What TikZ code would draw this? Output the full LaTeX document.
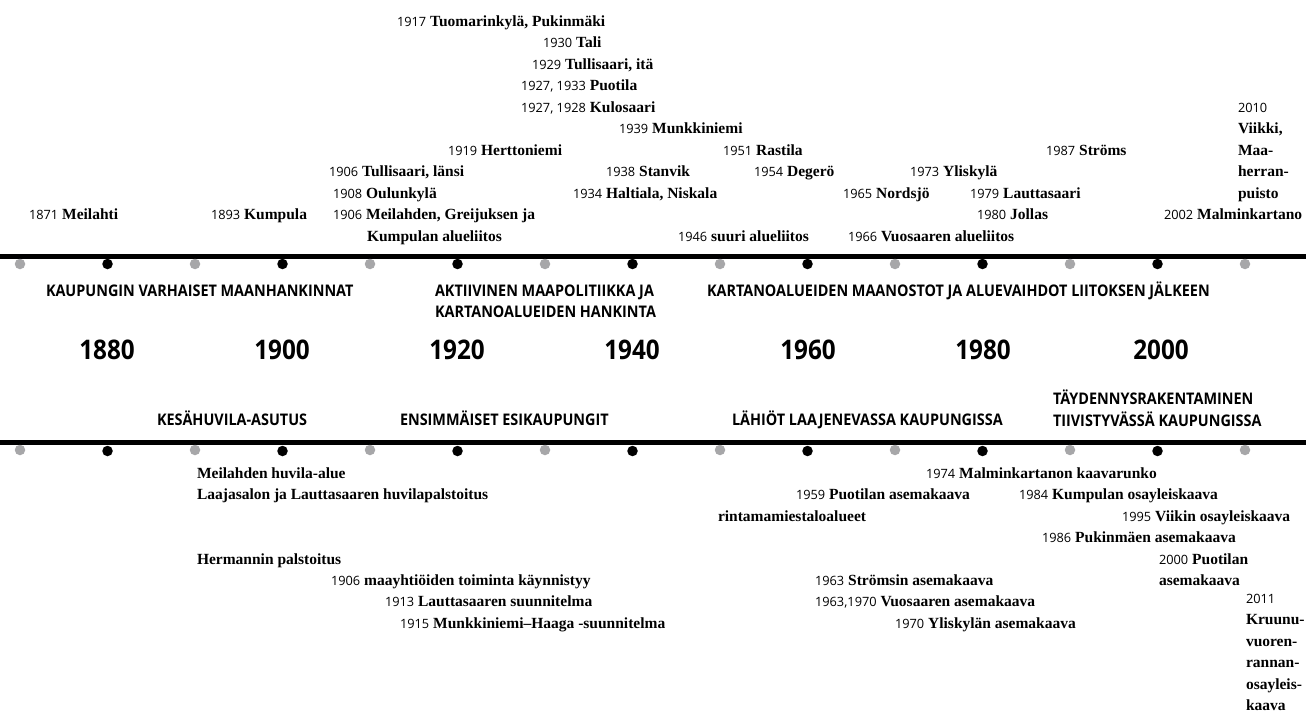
\documentclass[tikz,border=0pt]{standalone}
\usepackage{fontspec}
\setmainfont{Liberation Serif}
\newfontfamily\yrfont{Open Sans}
\newfontfamily\hdfont{Open Sans}[FakeStretch=0.9]
\definecolor{dotgray}{HTML}{A7A7A9}
\newcommand\yy[1]{{\yrfont\fontsize{12.8}{21.4}\selectfont #1}}
\newcommand\nn[1]{\textbf{#1}}
\tikzset{
  ev/.style={anchor=base west, inner sep=0pt, outer sep=0pt, align=left,
    font=\fontsize{15.5}{21.4}\selectfont},
  hd/.style={anchor=base west, inner sep=0pt, outer sep=0pt, align=left,
    font=\hdfont\bfseries\fontsize{16}{21.5}\selectfont},
  dec/.style={anchor=base, inner sep=0pt, outer sep=0pt,
    font=\hdfont\bfseries\fontsize{27}{30}\selectfont},
  dotb/.style={circle, fill=black, inner sep=0pt, minimum size=10.5pt},
  dotg/.style={circle, fill=dotgray, inner sep=0pt, minimum size=10.5pt},
  axis/.style={line width=4.6pt, black}
}
\begin{document}
\begin{tikzpicture}[x=1pt,y=-1pt]
\useasboundingbox (0,0) rectangle (1306,714);
% axes
\coordinate (tl) at (0,256.3);
\coordinate (tr) at (1306,256.3);
\coordinate (bl) at (0,442.6);
\coordinate (br) at (1306,442.6);
\draw[axis] (tl) -- (tr);
\draw[axis] (bl) -- (br);
% dots
\foreach \i in {0,...,14}{
  \pgfmathtruncatemacro\odd{mod(\i,2)}
  \ifnum\odd=0
    \node[dotg] (td\i) at ({20+87.5*\i},264) {};
    \node[dotg] (bd\i) at ({20+87.5*\i},450) {};
  \else
    \node[dotb] (td\i) at ({20+87.5*\i},264) {};
    \node[dotb] (bd\i) at ({20+87.5*\i},451) {};
  \fi
}
% decades
\node[dec] (d1880) at (107,359) {1880};
\node[dec] (d1900) at (282,359) {1900};
\node[dec] (d1920) at (457,359) {1920};
\node[dec] (d1940) at (632,359) {1940};
\node[dec] (d1960) at (808,359) {1960};
\node[dec] (d1980) at (983,359) {1980};
\node[dec] (d2000) at (1161,359) {2000};
% headings (base anchor = last line)
\node[hd] (h1) at (46,296.5) {KAUPUNGIN VARHAISET MAANHANKINNAT};
\node[hd] (h2) at (435,317.5) {AKTIIVINEN MAAPOLITIIKKA JA\\KARTANOALUEIDEN HANKINTA};
\node[hd] (h3) at (707,296.5) {KARTANOALUEIDEN MAANOSTOT JA ALUEVAIHDOT LIITOKSEN JÄLKEEN};
\node[hd] (h4) at (157,425.5) {KESÄHUVILA-ASUTUS};
\node[hd] (h5) at (400,425.5) {ENSIMMÄISET ESIKAUPUNGIT};
\node[hd] (h6) at (732,425.5) {LÄHIÖT LAAJENEVASSA KAUPUNGISSA};
\node[hd] (h7) at (1053,426) {TÄYDENNYSRAKENTAMINEN\\TIIVISTYVÄSSÄ KAUPUNGISSA};
% top events: baseline = 26.5 + 21.45 r
\node[ev] (t1917) at (397,26.5) {\yy{1917} \nn{Tuomarinkylä, Pukinmäki}};
\node[ev] (t1930) at (543,47.9) {\yy{1930} \nn{Tali}};
\node[ev] (t1929) at (532,69.4) {\yy{1929} \nn{Tullisaari, itä}};
\node[ev] (t1927a) at (521,90.8) {\yy{1927, 1933} \nn{Puotila}};
\node[ev] (t1927b) at (521,112.3) {\yy{1927, 1928} \nn{Kulosaari}};
\node[ev] (t2010) at (1238,198.1) {\yy{2010}\\\nn{Viikki,}\\\nn{Maa-}\\\nn{herran-}\\\nn{puisto}};
\node[ev] (t1939) at (619,133.7) {\yy{1939} \nn{Munkkiniemi}};
\node[ev] (t1919) at (448,155.2) {\yy{1919} \nn{Herttoniemi}};
\node[ev] (t1951) at (723,155.2) {\yy{1951} \nn{Rastila}};
\node[ev] (t1987) at (1046,155.2) {\yy{1987} \nn{Ströms}};
\node[ev] (t1906a) at (329,176.6) {\yy{1906} \nn{Tullisaari, länsi}};
\node[ev] (t1938) at (606,176.6) {\yy{1938} \nn{Stanvik}};
\node[ev] (t1954) at (754,176.6) {\yy{1954} \nn{Degerö}};
\node[ev] (t1973) at (910,176.6) {\yy{1973} \nn{Yliskylä}};
\node[ev] (t1908) at (333,198.1) {\yy{1908} \nn{Oulunkylä}};
\node[ev] (t1934) at (573,198.1) {\yy{1934} \nn{Haltiala, Niskala}};
\node[ev] (t1965) at (843,198.1) {\yy{1965} \nn{Nordsjö}};
\node[ev] (t1979) at (970,198.1) {\yy{1979} \nn{Lauttasaari}};
\node[ev] (t1871) at (29,219.5) {\yy{1871} \nn{Meilahti}};
\node[ev] (t1893) at (211,219.5) {\yy{1893} \nn{Kumpula}};
\node[ev] (t1906b) at (333,219.5) {\yy{1906} \nn{Meilahden, Greijuksen ja}};
\node[ev] (t1980) at (977,219.5) {\yy{1980} \nn{Jollas}};
\node[ev] (t2002) at (1164,219.5) {\yy{2002} \nn{Malminkartano}};
\node[ev] (t1906c) at (367,241.0) {\nn{Kumpulan alueliitos}};
\node[ev] (t1946) at (678,241.0) {\yy{1946} \nn{suuri alueliitos}};
\node[ev] (t1966) at (848,241.0) {\yy{1966} \nn{Vuosaaren alueliitos}};
% bottom events: baseline = 478.5 + 21.4 r
\node[ev] (b1) at (197,478.5) {\nn{Meilahden huvila-alue}};
\node[ev] (b1974) at (926,478.5) {\yy{1974} \nn{Malminkartanon kaavarunko}};
\node[ev] (b2) at (197,499.9) {\nn{Laajasalon ja Lauttasaaren huvilapalstoitus}};
\node[ev] (b1959) at (796,499.9) {\yy{1959} \nn{Puotilan asemakaava}};
\node[ev] (b1984) at (1019,499.9) {\yy{1984} \nn{Kumpulan osayleiskaava}};
\node[ev] (b3) at (718,521.3) {\nn{rintamamiestaloalueet}};
\node[ev] (b1995) at (1122,521.3) {\yy{1995} \nn{Viikin osayleiskaava}};
\node[ev] (b1986) at (1042,542.7) {\yy{1986} \nn{Pukinmäen asemakaava}};
\node[ev] (b4) at (197,564.1) {\nn{Hermannin palstoitus}};
\node[ev] (b2000) at (1159,585.5) {\yy{2000} \nn{Puotilan}\\\nn{asemakaava}};
\node[ev] (b1906) at (331,585.5) {\yy{1906} \nn{maayhtiöiden toiminta käynnistyy}};
\node[ev] (b1963a) at (815,585.5) {\yy{1963} \nn{Strömsin asemakaava}};
\node[ev] (b1913) at (385,606.9) {\yy{1913} \nn{Lauttasaaren suunnitelma}};
\node[ev] (b1963b) at (815,606.9) {\yy{1963,1970} \nn{Vuosaaren asemakaava}};
\node[ev] (b2011) at (1246,710.5) {\yy{2011}\\\nn{Kruunu-}\\\nn{vuoren-}\\\nn{rannan-}\\\nn{osayleis-}\\\nn{kaava}};
\node[ev] (b1915) at (400,628.3) {\yy{1915} \nn{Munkkiniemi–Haaga -suunnitelma}};
\node[ev] (b1970) at (895,628.3) {\yy{1970} \nn{Yliskylän asemakaava}};
\end{tikzpicture}
\end{document}
